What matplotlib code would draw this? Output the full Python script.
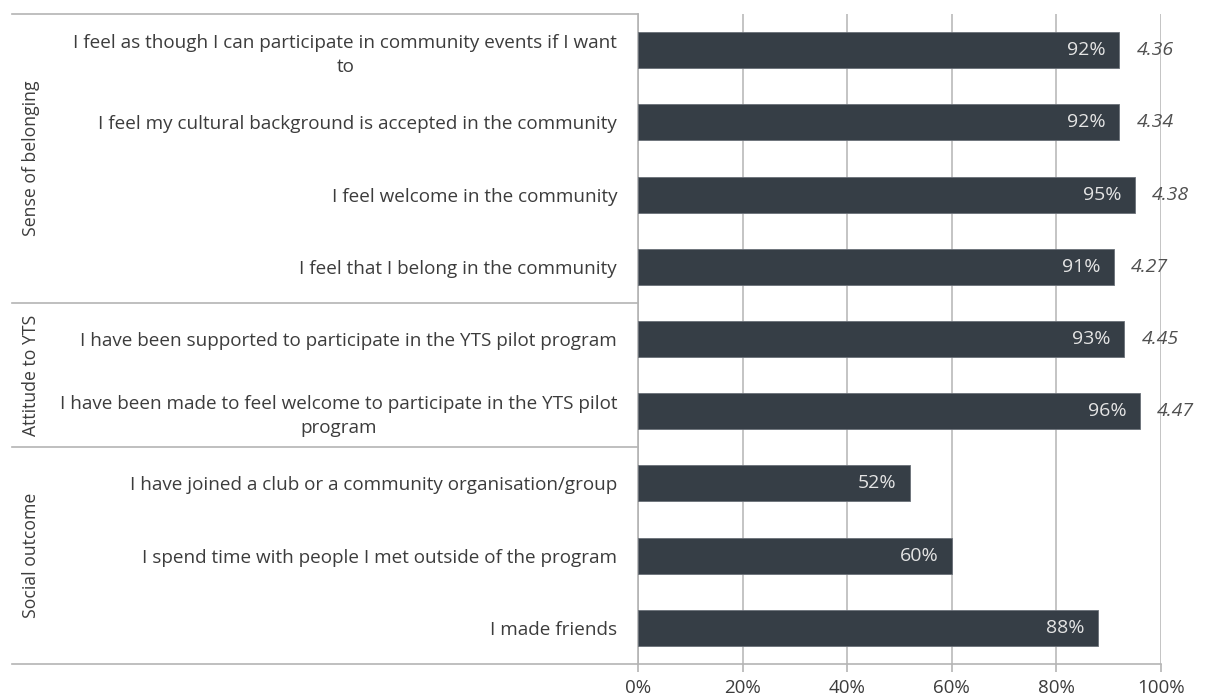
import matplotlib.pyplot as plt
import matplotlib.transforms as mtransforms
from matplotlib.lines import Line2D

plt.rcParams['font.family'] = ['Open Sans', 'DejaVu Sans']

# survey statements, top to bottom
statements = [
    'I feel as though I can participate in community events if I want\nto',
    'I feel my cultural background is accepted in the community',
    'I feel welcome in the community',
    'I feel that I belong in the community',
    'I have been supported to participate in the YTS pilot program',
    'I have been made to feel welcome to participate in the YTS pilot\nprogram',
    'I have joined a club or a community organisation/group',
    'I spend time with people I met outside of the program',
    'I made friends',
]
agree_pct = [92, 92, 95, 91, 93, 96, 52, 60, 88]
mean_score = ['4.36', '4.34', '4.38', '4.27', '4.45', '4.47', None, None, None]

groups = ['Sense of belonging', 'Attitude to YTS', 'Social outcome']
group_sizes = [4, 2, 3]

xticks = [0, 20, 40, 60, 80, 100]
xtick_labels = ['0%', '20%', '40%', '60%', '80%', '100%']

bar_color = '#363e46'
text_color = '#3c3c3c'
line_color = '#b4b4b4'

fig = plt.figure(figsize=(12.08, 6.97), dpi=100)
ax = fig.add_axes([638 / 1208, 1 - 664 / 697, 523 / 1208, 650 / 697])

y = list(range(len(statements)))
ax.barh(y, agree_pct, height=0.5, color=bar_color, edgecolor='#6a7078',
        linewidth=0.6, zorder=3)

ax.set_ylim(len(statements) - 0.5, -0.5)
ax.set_xlim(0, 100)

ax.set_xticks(xticks)
ax.set_xticklabels(xtick_labels)
ax.tick_params(axis='x', length=6, width=1.2, color=line_color, pad=5,
               labelsize=13.5, labelcolor=text_color)
ax.xaxis.grid(True, color='#c4c4c4', linewidth=1.4, zorder=0)

ax.set_yticks(y)
ax.set_yticklabels(statements, fontsize=13.6, color=text_color)
for lab in ax.get_yticklabels():
    lab.set_multialignment('center')
    lab.set_linespacing(1.4)
    lab.set_verticalalignment('center_baseline')
ax.tick_params(axis='y', length=0, pad=15)

for side in ['top', 'right']:
    ax.spines[side].set_visible(False)
ax.spines['left'].set_color(line_color)
ax.spines['bottom'].set_color(line_color)
ax.spines['left'].set_linewidth(1.2)
ax.spines['bottom'].set_linewidth(1.2)

# value labels inside the bars and mean scores beside them
for yi, pct, score in zip(y, agree_pct, mean_score):
    ax.text(pct - 2.6, yi, f'{pct}%', ha='right', va='center',
            color='#e4e4e4', fontsize=14, zorder=4)
    if score is not None:
        ax.text(pct + 3.3, yi, score, ha='left', va='center',
                color='#505050', fontsize=14, style='italic', zorder=4)

# group brackets on the far left
trans = mtransforms.blended_transform_factory(fig.transFigure, ax.transData)
x_left = 12 / 1208
x_axis = 638 / 1208
edges = [-0.5]
for n in group_sizes:
    edges.append(edges[-1] + n)
for yb in edges:
    fig.add_artist(Line2D([x_left, x_axis], [yb, yb], transform=trans,
                          color=line_color, linewidth=1.2))
for name, y0, y1 in zip(groups, edges[:-1], edges[1:]):
    ax.text(31 / 1208, (y0 + y1) / 2, name, transform=trans, rotation=90,
            ha='center', va='center', fontsize=12.7, color=text_color)

fig.savefig('out.png', dpi=100, facecolor='white')
